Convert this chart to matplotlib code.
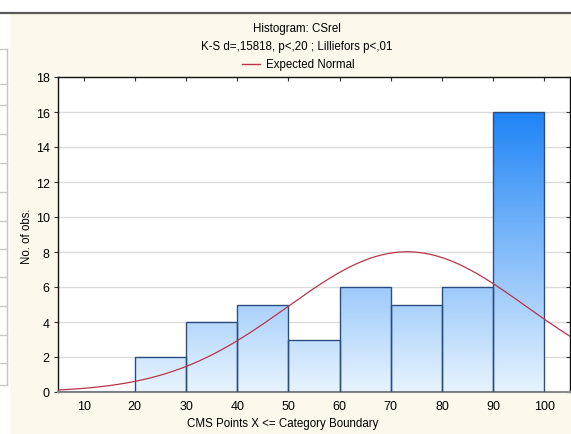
import numpy as np
import matplotlib
matplotlib.use("Agg")
import matplotlib.pyplot as plt
from matplotlib.patches import Rectangle
from matplotlib.lines import Line2D
from matplotlib.colors import LinearSegmentedColormap

plt.rcParams['font.family'] = ['Liberation Sans', 'DejaVu Sans']

# ---- data ----
bin_edges = [0, 10, 20, 30, 40, 50, 60, 70, 80, 90, 100]
counts = [0, 0, 2, 4, 5, 3, 6, 5, 6, 16]
x_ticks = [10, 20, 30, 40, 50, 60, 70, 80, 90, 100]
y_ticks = [0, 2, 4, 6, 8, 10, 12, 14, 16, 18]
normal_mean = 73.2
normal_sd = 23.4
bin_width = 10
title_lines = ["Histogram: CSrel", "K-S d=,15818, p<,20 ; Lilliefors p<,01"]
legend_label = "Expected Normal"
x_label = "CMS Points X <= Category Boundary"
y_label = "No. of obs."

W, H = 571, 435
fig = plt.figure(figsize=(W / 100, H / 100), dpi=100)
beige = "#FDF8EC"
fig.patch.set_facecolor(beige)

def fx(px):
    return px / W

def fy(py):
    return 1 - py / H

# white strips (window chrome)
fig.add_artist(Rectangle((0, fy(13)), 1, 13 / H, transform=fig.transFigure,
                         facecolor="white", edgecolor="none", zorder=0))
fig.add_artist(Rectangle((0, 0), fx(10), fy(13), transform=fig.transFigure,
                         facecolor="white", edgecolor="none", zorder=0))
fig.add_artist(Line2D([0, 1], [fy(13.5), fy(13.5)], transform=fig.transFigure,
                      color="#5a5a5a", lw=1.6))
# partial table at left edge
fig.add_artist(Line2D([fx(7), fx(7)], [fy(50), fy(386)], transform=fig.transFigure,
                      color="#c4c4c4", lw=1.0))
for yy in [50, 85, 106, 135, 164, 193, 222, 250, 278, 307, 336, 364, 386]:
    fig.add_artist(Line2D([0, fx(7)], [fy(yy), fy(yy)], transform=fig.transFigure,
                          color="#c8c8c8", lw=1.0))

ax = fig.add_axes([fx(58), fy(393), fx(570 - 58), (393 - 78) / H])
ax.set_facecolor("white")

for yv in y_ticks[1:-1]:
    ax.axhline(yv, color="#dcdcdc", lw=1.0, zorder=1)

cmap = LinearSegmentedColormap.from_list("g", ["#E8F4FE", "#1F84F6"])
grad = np.linspace(0, 1, 256).reshape(-1, 1)
for i, c in enumerate(counts):
    left = bin_edges[i]
    rect = Rectangle((left, 0), bin_width, c, facecolor="none",
                     edgecolor="#2B4E7E", lw=1.0, zorder=3)
    ax.add_patch(rect)
    if c > 0:
        im = ax.imshow(grad, extent=[left, left + bin_width, 0, 16], origin="lower",
                       cmap=cmap, aspect="auto", zorder=2, interpolation="bilinear")
        clip = Rectangle((left, 0), bin_width, c, transform=ax.transData)
        im.set_clip_path(clip)

ax.set_xlim(5, 105)
ax.set_ylim(0, 18)

xs = np.linspace(5, 105, 400)
n_obs = sum(counts)
ys = n_obs * bin_width * np.exp(-0.5 * ((xs - normal_mean) / normal_sd) ** 2) / (normal_sd * np.sqrt(2 * np.pi))
ax.plot(xs, ys, color="#B8344A", lw=0.9, zorder=4)

ax.set_xticks(x_ticks)
ax.set_yticks(y_ticks)
ax.tick_params(axis="x", direction="in", length=3, pad=6, labelsize=9,
               top=True, bottom=False, labeltop=False, color="#333333")
ax.tick_params(axis="y", direction="out", length=3, pad=3, labelsize=9,
               right=True, color="#333333")
for t in ax.yaxis.get_major_ticks():
    t.tick2line.set_marker(matplotlib.markers.TICKLEFT)

for s in ["left", "top"]:
    ax.spines[s].set_color("#111111")
    ax.spines[s].set_linewidth(1.0)
ax.spines["bottom"].set_color("#8a8a8a")
ax.spines["bottom"].set_linewidth(1.5)
ax.spines["right"].set_color("#111111")
ax.spines["right"].set_linewidth(1.0)

fs = 8.3
fig.text(fx(297), fy(29), title_lines[0], ha="center", va="center", fontsize=fs)
fig.text(fx(297), fy(47), title_lines[1], ha="center", va="center", fontsize=fs)
fig.add_artist(Line2D([fx(242), fx(260)], [fy(65), fy(65)], transform=fig.transFigure,
                      color="#B8344A", lw=1.0))
fig.text(fx(266), fy(65), legend_label, ha="left", va="center", fontsize=fs)

fig.text(fx(283), fy(424), x_label, ha="center", va="center", fontsize=fs)
fig.text(fx(27), fy(236), y_label, ha="center", va="center", rotation=90, fontsize=fs)

fig.savefig("out.png", dpi=100, facecolor=fig.get_facecolor())
